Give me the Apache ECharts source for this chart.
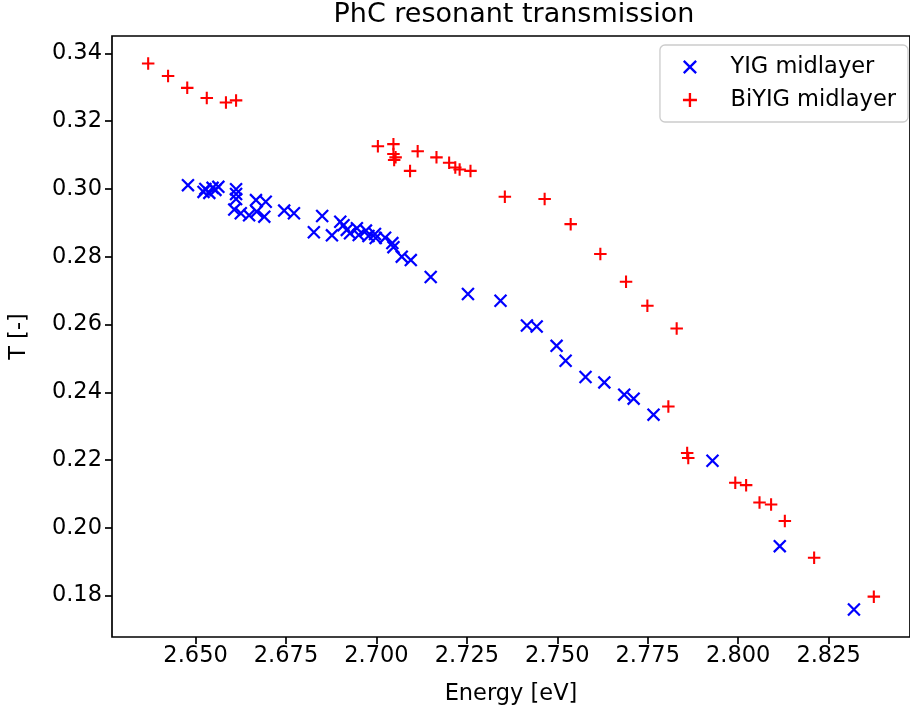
<!DOCTYPE html>
<html><head><meta charset="utf-8">
<script src="https://cdn.jsdelivr.net/npm/echarts@6/dist/echarts.min.js"></script>
<style>html,body{margin:0;padding:0;background:#fff;}#c{width:910px;height:716px;}</style>
</head><body><div id="c"></div>
<script>
const yigEnergy = [2.6479,2.6522,2.6527,2.6538,2.6547,2.6555,2.6563,2.6612,2.6612,2.6612,2.6607,2.6625,2.6648,2.6667,2.6669,2.6694,2.6690,2.6745,2.6772,2.6827,2.6850,2.6877,2.6900,2.6909,2.6918,2.6927,2.6946,2.6951,2.6971,2.6978,2.6996,2.6998,2.7024,2.7044,2.7047,2.7070,2.7095,2.7150,2.7253,2.7343,2.7416,2.7443,2.7498,2.7523,2.7578,2.7630,2.7685,2.7711,2.7766,2.7929,2.8115,2.8320];
const yigT = [0.3011,0.2991,0.3000,0.2988,0.3003,0.2997,0.3006,0.2999,0.2985,0.2970,0.2939,0.2928,0.2922,0.2967,0.2933,0.2962,0.2918,0.2936,0.2928,0.2872,0.2920,0.2863,0.2903,0.2893,0.2879,0.2869,0.2884,0.2864,0.2877,0.2861,0.2867,0.2855,0.2856,0.2840,0.2828,0.2800,0.2790,0.2740,0.2690,0.2670,0.2597,0.2594,0.2537,0.2493,0.2445,0.2429,0.2393,0.2381,0.2334,0.2198,0.1946,0.1759];
const biyigEnergy = [2.6369,2.6424,2.6477,2.6531,2.6584,2.6612,2.7004,2.7047,2.7047,2.7053,2.7049,2.7114,2.7093,2.7166,2.7201,2.7218,2.7230,2.7260,2.7355,2.7465,2.7537,2.7619,2.7690,2.7749,2.7830,2.7807,2.7859,2.7862,2.7992,2.8022,2.8059,2.8091,2.8129,2.8210,2.8375];
const biyigT = [0.3370,0.3333,0.3298,0.3268,0.3255,0.3261,0.3126,0.3132,0.3103,0.3093,0.3085,0.3111,0.3053,0.3093,0.3077,0.3063,0.3057,0.3053,0.2977,0.2970,0.2896,0.2808,0.2726,0.2655,0.2588,0.2358,0.2221,0.2206,0.2133,0.2126,0.2075,0.2069,0.2020,0.1912,0.1797];
const xTicks = [2.650,2.675,2.700,2.725,2.750,2.775,2.800,2.825];
const yTicks = [0.18,0.20,0.22,0.24,0.26,0.28,0.30,0.32,0.34];
const seriesNames = ['YIG midlayer','BiYIG midlayer'];
const titleText = 'PhC resonant transmission';
const xName = 'Energy [eV]';
const yName = 'T [-]';

const plusPath = 'path://M4.17 0 H5.83 V4.17 H10 V5.83 H5.83 V10 H4.17 V5.83 H0 V4.17 H4.17 Z';
const xPath = 'path://M0 1.17 L1.17 0 L10 8.83 L8.83 10 Z M8.83 0 L10 1.17 L1.17 10 L0 8.83 Z';
const FONT = 'DejaVu Sans';
const FS = 22.5;

const chart = echarts.init(document.getElementById('c'), null, {renderer:'canvas'});
const zip = (a,b)=>a.map((v,i)=>[v,b[i]]);
chart.setOption({
  animation:false,
  backgroundColor:'#fff',
  textStyle:{fontFamily:FONT},
  title:{text:titleText,left:514,textAlign:'center',top:1,padding:0,
    textStyle:{fontFamily:FONT,fontSize:27,fontWeight:'normal',color:'#000'}},
  grid:{left:112,top:36,width:803,height:601,show:true,borderColor:'#000',borderWidth:1.7,backgroundColor:'transparent'},
  legend:{orient:'vertical',right:2,top:45,padding:[9,12,9,23],itemGap:7,
    backgroundColor:'rgba(255,255,255,0.8)',borderColor:'#cccccc',borderWidth:1.3,borderRadius:5,
    itemWidth:45,itemHeight:14,
    textStyle:{fontFamily:FONT,fontSize:FS,color:'#000',lineHeight:26,padding:[0,0,0,13]},
    data:[{name:seriesNames[0],icon:xPath},{name:seriesNames[1],icon:plusPath}]},
  xAxis:{type:'value',min:2.6269,max:2.8475,
    name:xName,nameLocation:'middle',nameGap:46,
    nameTextStyle:{fontFamily:FONT,fontSize:FS,color:'#000'},
    axisLine:{show:false},
    splitLine:{show:false},
    axisTick:{show:true,length:7,lineStyle:{color:'#000',width:1.7},customValues:xTicks},
    axisLabel:{fontFamily:FONT,fontSize:FS,color:'#000',margin:8,customValues:xTicks,
      formatter:v=>v.toFixed(3)}},
  yAxis:{type:'value',min:0.1678,max:0.3451,
    name:yName,nameLocation:'middle',nameGap:81,nameRotate:90,
    nameTextStyle:{fontFamily:FONT,fontSize:FS,color:'#000'},
    axisLine:{show:false},
    splitLine:{show:false},
    axisTick:{show:true,length:7,lineStyle:{color:'#000',width:1.7},customValues:yTicks},
    axisLabel:{fontFamily:FONT,fontSize:FS,color:'#000',margin:10,customValues:yTicks,
      formatter:v=>v.toFixed(2)}},
  series:[
    {name:seriesNames[0],type:'scatter',data:zip(yigEnergy,yigT),symbol:xPath,symbolSize:13.5,
      itemStyle:{color:'#0000ff',opacity:1}},
    {name:seriesNames[1],type:'scatter',data:zip(biyigEnergy,biyigT),symbol:plusPath,symbolSize:12.5,
      itemStyle:{color:'#ff0000',opacity:1}}
  ]
});
</script></body></html>
